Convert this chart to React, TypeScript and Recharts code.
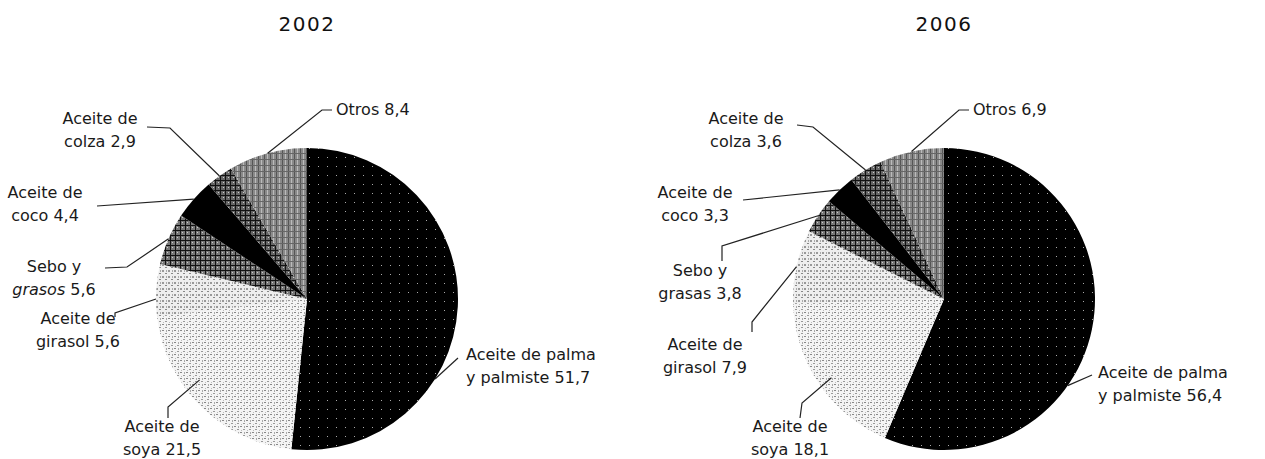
import { PieChart, Pie, Cell } from 'recharts';

const years = ['2002', '2006'];
const labelFirst = ['Aceite de palma', 'Aceite de', 'Aceite de', 'Sebo y', 'Aceite de', 'Aceite de', ''];
const labelSecond2002 = ['y palmiste', 'soya', 'girasol', 'grasos', 'coco', 'colza', 'Otros'];
const labelSecond2006 = ['y palmiste', 'soya', 'girasol', 'grasas', 'coco', 'colza', 'Otros'];
const shares2002 = [51.7, 21.5, 5.6, 5.6, 4.4, 2.9, 8.4];
const shares2006 = [56.4, 18.1, 7.9, 3.8, 3.3, 3.6, 6.9];
const fills = ['url(#pPalma)', 'url(#pSoya)', 'url(#pGirasol)', 'url(#pSebo)', '#000', 'url(#pColza)', 'url(#pOtros)'];

const W = 1265;
const H = 459;
const RADIAN = Math.PI / 180;
const FONT = '"DejaVu Sans", sans-serif';

// leader bends and text spots, as offsets from the pie centre
type Layout = {
  pts: [number, number][];
  tx: number;
  ty: number;
  anchor: 'start' | 'middle' | 'end';
  italic?: boolean;
  deg?: number; // where the leader starts, clockwise from 12 o'clock
  rf?: number; // and how far out, as a share of the radius
};

const layout2002: Layout[] = [
  { pts: [[151, 59]], tx: 159, ty: 61, anchor: 'start', deg: 122 },
  { pts: [[-139, 108], [-139, 119]], tx: -145, ty: 133, anchor: 'middle', deg: 233, rf: 0.89 },
  { pts: [[-192, 14], [-192, 18]], tx: -229, ty: 25, anchor: 'middle', deg: 270 },
  { pts: [[-180, -32], [-202, -31]], tx: -253, ty: -27, anchor: 'middle', italic: true },
  { pts: [[-210, -93]], tx: -262, ty: -101, anchor: 'middle' },
  { pts: [[-137, -171], [-160, -172]], tx: -207, ty: -175, anchor: 'middle' },
  { pts: [[15, -189], [25, -189]], tx: 29, ty: -184, anchor: 'start' },
];

const layout2006: Layout[] = [
  { pts: [[148, 76]], tx: 154, ty: 79, anchor: 'start', deg: 125 },
  { pts: [[-142, 104], [-144, 119]], tx: -154, ty: 133, anchor: 'middle', deg: 235, rf: 0.91 },
  { pts: [[-192, 23], [-192, 33]], tx: -239, ty: 51, anchor: 'middle' },
  { pts: [[-222, -53], [-222, -38]], tx: -244, ty: -23, anchor: 'middle' },
  { pts: [[-201, -99]], tx: -249, ty: -101, anchor: 'middle' },
  { pts: [[-131, -172], [-147, -174]], tx: -198, ty: -175, anchor: 'middle' },
  { pts: [[15, -189], [25, -189]], tx: 29, ty: -184, anchor: 'start' },
];

const makeRows = (shares: number[], second: string[]) =>
  shares.map((v, i) => ({ name: (labelFirst[i] + ' ' + second[i]).trim(), first: labelFirst[i], second: second[i], value: v }));

const rows2002 = makeRows(shares2002, labelSecond2002);
const rows2006 = makeRows(shares2006, labelSecond2006);

const fmt = (v: number) => v.toFixed(1).replace('.', ',');

function makeLabel(lay: Layout[]) {
  return (props: any) => {
    const { cx, cy, midAngle, outerRadius, index, payload } = props;
    const l = lay[index];
    const a = l.deg !== undefined ? 90 - l.deg : midAngle;
    const r = outerRadius * (l.rf ?? 1);
    const ex = cx + r * Math.cos(-a * RADIAN);
    const ey = cy + r * Math.sin(-a * RADIAN);
    const pts = [[ex, ey], ...l.pts.map(([dx, dy]) => [cx + dx, cy + dy])];
    const d = pts.map((p, i) => (i ? 'L' : 'M') + p[0] + ',' + p[1]).join(' ');
    const row = payload.payload ?? payload;
    const lines = row.first ? [row.first, row.second] : [row.second];
    return (
      <g key={'lab' + index}>
        <path d={d} stroke="#222" strokeWidth={1.2} fill="none" />
        <text x={cx + l.tx} y={cy + l.ty} textAnchor={l.anchor} fontFamily={FONT} fontSize={16} fill="#1a1a1a">
          {lines.map((t: string, i: number) => (
            <tspan key={i} x={cx + l.tx} dy={i ? 23 : 0}>
              {i === lines.length - 1 ? (
                <>
                  <tspan fontStyle={l.italic ? 'italic' : 'normal'}>{t}</tspan>
                  {' ' + fmt(row.value)}
                </>
              ) : (
                t
              )}
            </tspan>
          ))}
        </text>
      </g>
    );
  };
}

function Patterns() {
  return (
    <svg width={0} height={0} style={{ position: 'absolute' }}>
      <defs>
        <pattern id="pPalma" width={9} height={9} patternUnits="userSpaceOnUse">
          <rect width={9} height={9} fill="#000" />
          <rect x={3} y={4} width={1} height={1} fill="#aaa" />
        </pattern>
        <pattern id="pSoya" width={6} height={6} patternUnits="userSpaceOnUse">
          <rect width={6} height={6} fill="#f4f4f4" />
          <rect x={0} y={0} width={2} height={1} fill="#888" />
          <rect x={3} y={3} width={2} height={1} fill="#999" />
          <rect x={4} y={0} width={1} height={2} fill="#aaa" />
          <rect x={1} y={4} width={1} height={1} fill="#bbb" />
        </pattern>
        <pattern id="pGirasol" width={6} height={6} patternUnits="userSpaceOnUse">
          <rect width={6} height={6} fill="#eee" />
          <rect x={0} y={0} width={2} height={2} fill="#999" />
          <rect x={3} y={3} width={2} height={1} fill="#888" />
          <rect x={4} y={0} width={1} height={2} fill="#aaa" />
        </pattern>
        <pattern id="pSebo" width={5} height={5} patternUnits="userSpaceOnUse">
          <rect width={5} height={5} fill="#777" />
          <rect x={0} y={0} width={5} height={1} fill="#111" />
          <rect x={0} y={0} width={1} height={5} fill="#111" />
          <rect x={2} y={2} width={1} height={1} fill="#ccc" />
        </pattern>
        <pattern id="pColza" width={5} height={5} patternUnits="userSpaceOnUse">
          <rect width={5} height={5} fill="#666" />
          <rect x={0} y={0} width={5} height={1} fill="#111" />
          <rect x={0} y={0} width={1} height={5} fill="#111" />
          <rect x={3} y={2} width={1} height={1} fill="#ccc" />
        </pattern>
        <pattern id="pOtros" width={6} height={6} patternUnits="userSpaceOnUse">
          <rect width={6} height={6} fill="#8a8a8a" />
          <rect x={0} y={0} width={1} height={6} fill="#555" />
          <rect x={3} y={0} width={1} height={6} fill="#bbb" />
          <rect x={0} y={3} width={6} height={1} fill="#666" />
        </pattern>
      </defs>
    </svg>
  );
}

export default function App() {
  const centres = [307, 944];
  return (
    <div style={{ position: 'absolute', left: 0, top: 0, width: W, height: H, background: '#fff' }}>
      <Patterns />
      <PieChart width={W} height={H} margin={{ top: 0, right: 0, bottom: 0, left: 0 }}>
        {[rows2002, rows2006].map((rows, k) => (
          <Pie
            key={years[k]}
            data={rows}
            dataKey="value"
            nameKey="name"
            cx={centres[k]}
            cy={299}
            outerRadius={151}
            startAngle={90}
            endAngle={-270}
            stroke="none"
            labelLine={false}
            label={makeLabel(k ? layout2006 : layout2002)}
            isAnimationActive={false}
          >
            {rows.map((r, i) => (
              <Cell key={r.name} fill={fills[i]} />
            ))}
          </Pie>
        ))}
      </PieChart>
      {years.map((y, k) => (
        <div
          key={y}
          style={{
            position: 'absolute',
            left: centres[k] - 60,
            top: 12,
            width: 120,
            textAlign: 'center',
            fontFamily: FONT,
            fontSize: 20,
            letterSpacing: 1.5,
            color: '#111',
          }}
        >
          {y}
        </div>
      ))}
    </div>
  );
}
